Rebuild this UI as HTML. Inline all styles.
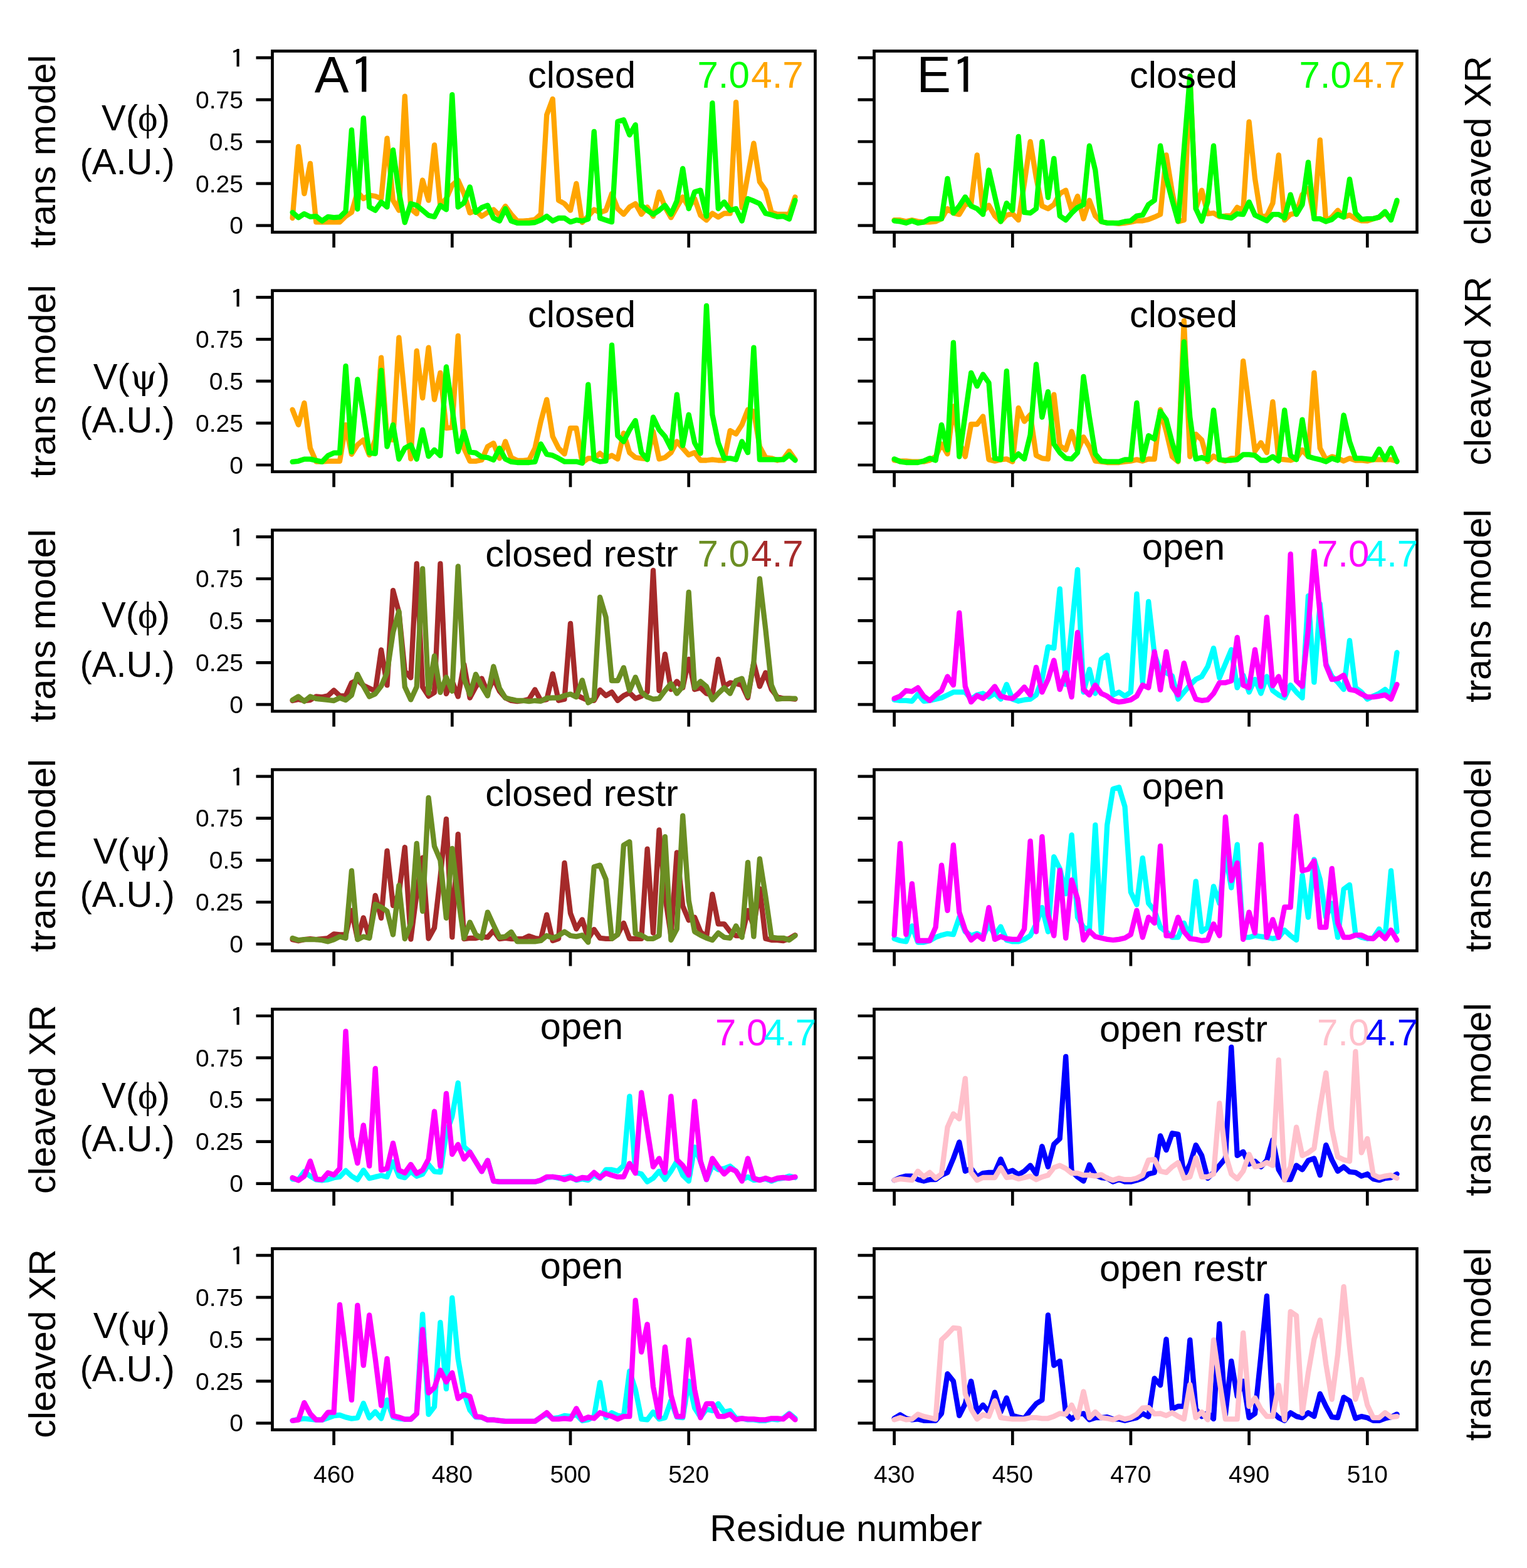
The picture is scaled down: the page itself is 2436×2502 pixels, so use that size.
<!DOCTYPE html><html><head><meta charset="utf-8"><style>html,body{margin:0;padding:0;background:#fff;}svg{display:block;}svg{font-family:"Liberation Sans",Arial,sans-serif;}</style></head><body>
<svg width="2436" height="2502" viewBox="0 0 2436 2502">
<rect width="2436" height="2502" fill="#fff"/>
<clipPath id="c00"><rect x="434.5" y="81.5" width="866.0" height="289.0"/></clipPath>
<g clip-path="url(#c00)" fill="none" stroke-width="8.3" stroke-linejoin="round" stroke-linecap="round">
<polyline points="466.6,348.0 476.0,234.0 485.4,309.0 494.9,260.8 504.3,354.4 513.7,354.4 523.2,354.4 532.6,354.4 542.0,354.4 551.5,345.1 560.9,338.9 570.3,306.3 579.8,317.0 589.2,311.6 598.7,313.0 608.1,317.0 617.5,220.6 627.0,319.7 636.4,335.7 645.8,153.7 655.3,333.0 664.7,341.1 674.1,287.5 683.6,319.7 693.0,231.4 702.4,327.7 711.9,317.0 721.3,295.6 730.7,287.5 740.2,309.0 749.6,339.7 759.0,335.7 768.5,345.1 777.9,338.9 787.3,334.4 796.8,343.7 806.2,329.0 815.6,341.9 825.1,352.6 834.5,352.6 843.9,351.8 853.4,350.4 862.8,341.9 872.2,183.2 881.7,157.8 891.1,319.7 900.5,325.0 910.0,335.7 919.4,292.9 928.8,355.0 938.3,345.1 947.7,334.4 957.1,338.9 966.6,335.7 976.0,309.0 985.4,333.0 994.9,341.9 1004.3,330.4 1013.7,325.0 1023.2,341.9 1032.6,330.4 1042.0,345.1 1051.5,306.3 1060.9,330.4 1070.4,347.2 1079.8,330.4 1089.2,314.3 1098.7,330.4 1108.1,317.0 1117.5,343.5 1127.0,351.2 1136.4,340.5 1145.8,346.4 1155.3,340.5 1164.7,340.5 1174.1,163.1 1183.6,331.4 1193.0,279.5 1202.4,228.7 1211.9,290.2 1221.3,303.6 1230.7,338.9 1240.2,341.9 1249.6,341.9 1259.0,341.9 1268.5,314.3" stroke="#FFA500"/>
<polyline points="466.6,338.9 476.0,347.2 485.4,341.1 494.9,345.9 504.3,345.1 513.7,352.6 523.2,345.9 532.6,347.2 542.0,346.4 551.5,337.3 560.9,207.3 570.3,333.6 579.8,188.5 589.2,330.4 598.7,335.7 608.1,322.3 617.5,330.4 627.0,239.4 636.4,306.3 645.8,355.0 655.3,325.0 664.7,327.7 674.1,335.7 683.6,343.7 693.0,345.9 702.4,327.7 711.9,334.4 721.3,151.1 730.7,330.4 740.2,323.7 749.6,298.3 759.0,338.9 768.5,331.2 777.9,327.7 787.3,348.0 796.8,352.6 806.2,333.0 815.6,352.6 825.1,355.8 834.5,355.8 843.9,355.8 853.4,355.0 862.8,351.2 872.2,345.1 881.7,352.6 891.1,348.0 900.5,348.0 910.0,354.2 919.4,351.2 928.8,352.6 938.3,349.6 947.7,209.9 957.1,348.0 966.6,351.2 976.0,354.2 985.4,193.9 994.9,191.2 1004.3,215.3 1013.7,199.2 1023.2,327.7 1032.6,335.7 1042.0,341.9 1051.5,335.7 1060.9,327.7 1070.4,341.9 1079.8,320.7 1089.2,268.8 1098.7,333.0 1108.1,306.3 1117.5,303.6 1127.0,345.1 1136.4,164.5 1145.8,333.0 1155.3,322.3 1164.7,335.7 1174.1,333.0 1183.6,352.6 1193.0,317.0 1202.4,320.7 1211.9,325.0 1221.3,340.5 1230.7,342.7 1240.2,345.9 1249.6,345.1 1259.0,349.6 1268.5,319.7" stroke="#00FF00"/>
</g>
<rect x="434.5" y="81.5" width="866.0" height="289.0" fill="none" stroke="#000" stroke-width="4.7"/>
<path d="M408.5 359.8H434.5M408.5 292.9H434.5M408.5 226.0H434.5M408.5 159.1H434.5M408.5 92.2H434.5M532.6 370.5V395.0M721.3 370.5V395.0M910.0 370.5V395.0M1098.7 370.5V395.0" stroke="#000" stroke-width="4.7" fill="none"/>
<text x="388.0" y="373.4" font-size="39" text-anchor="end">0</text>
<text x="388.0" y="306.5" font-size="39" text-anchor="end">0.25</text>
<text x="388.0" y="239.6" font-size="39" text-anchor="end">0.5</text>
<text x="388.0" y="172.7" font-size="39" text-anchor="end">0.75</text>
<text transform="translate(366.2,108.3) scale(1.25,1)" font-size="40.4" font-family="IPAGothic, Liberation Sans, sans-serif">1</text>
<text x="928.0" y="140.0" font-size="59.5" text-anchor="middle">closed</text>
<text x="1112.5" y="139.5" font-size="60" fill="#00FF00">7.0</text>
<text x="1198.3" y="139.5" font-size="60" fill="#FFA500">4.7</text>
<text x="501.8" y="146.9" font-size="82">A</text>
<text transform="translate(557.6,150.9) scale(1.1,1)" font-size="80" font-family="IPAGothic, Liberation Sans, sans-serif">1</text>
<clipPath id="c01"><rect x="1394.5" y="81.5" width="866.0" height="289.0"/></clipPath>
<g clip-path="url(#c01)" fill="none" stroke-width="8.3" stroke-linejoin="round" stroke-linecap="round">
<polyline points="1426.6,351.2 1436.0,351.2 1445.4,353.4 1454.9,351.2 1464.3,353.4 1473.7,354.4 1483.2,354.4 1492.6,353.4 1502.0,349.1 1511.5,333.0 1520.9,340.0 1530.3,342.1 1539.8,326.4 1549.2,325.0 1558.7,247.4 1568.1,337.6 1577.5,327.7 1587.0,344.5 1596.4,353.4 1605.8,343.2 1615.3,341.1 1624.7,351.2 1634.1,292.9 1643.6,226.0 1653.0,283.5 1662.4,328.8 1671.9,333.0 1681.3,326.4 1690.7,309.0 1700.2,303.6 1709.6,335.7 1719.0,313.0 1728.5,349.1 1737.9,319.7 1747.3,344.5 1756.8,353.4 1766.2,355.8 1775.6,355.8 1785.1,356.9 1794.5,355.8 1803.9,354.4 1813.4,352.3 1822.8,352.3 1832.2,350.2 1841.7,346.4 1851.1,342.1 1860.5,247.4 1870.0,306.3 1879.4,353.4 1888.8,351.2 1898.3,121.6 1907.7,333.0 1917.1,303.6 1926.6,341.1 1936.0,340.0 1945.4,345.6 1954.9,344.5 1964.3,344.5 1973.7,330.9 1983.2,335.7 1992.6,194.4 2002.0,284.9 2011.5,345.6 2020.9,344.5 2030.4,324.2 2039.8,247.4 2049.2,351.2 2058.7,342.1 2068.1,340.0 2077.5,310.6 2087.0,300.9 2096.4,346.4 2105.8,223.3 2115.3,353.4 2124.7,346.4 2134.1,335.7 2143.6,346.4 2153.0,343.2 2162.4,349.1 2171.9,352.3 2181.3,352.3 2190.7,349.1 2200.2,346.4 2209.6,340.0 2219.0,349.1 2228.5,322.3" stroke="#FFA500"/>
<polyline points="1426.6,352.3 1436.0,353.4 1445.4,355.8 1454.9,352.3 1464.3,355.8 1473.7,354.4 1483.2,349.1 1492.6,349.1 1502.0,349.1 1511.5,284.9 1520.9,340.0 1530.3,328.8 1539.8,314.3 1549.2,328.8 1558.7,333.0 1568.1,342.1 1577.5,271.5 1587.0,313.0 1596.4,353.4 1605.8,324.2 1615.3,335.7 1624.7,218.0 1634.1,338.9 1643.6,340.0 1653.0,333.0 1662.4,226.0 1671.9,315.1 1681.3,252.8 1690.7,344.5 1700.2,351.2 1709.6,340.0 1719.0,330.9 1728.5,326.4 1737.9,232.7 1747.3,271.5 1756.8,353.4 1766.2,355.8 1775.6,355.8 1785.1,355.8 1794.5,353.4 1803.9,352.3 1813.4,344.5 1822.8,343.2 1832.2,326.4 1841.7,319.7 1851.1,232.7 1860.5,283.5 1870.0,319.7 1879.4,353.1 1888.8,239.4 1898.3,121.6 1907.7,333.0 1917.1,353.1 1926.6,322.3 1936.0,232.7 1945.4,344.5 1954.9,346.4 1964.3,347.8 1973.7,341.1 1983.2,342.1 1992.6,322.3 2002.0,343.2 2011.5,347.8 2020.9,352.3 2030.4,342.1 2039.8,342.1 2049.2,347.8 2058.7,310.6 2068.1,342.1 2077.5,326.4 2087.0,258.9 2096.4,349.1 2105.8,349.1 2115.3,353.4 2124.7,350.2 2134.1,342.1 2143.6,346.4 2153.0,285.9 2162.4,340.0 2171.9,350.2 2181.3,349.1 2190.7,349.1 2200.2,346.4 2209.6,337.6 2219.0,351.2 2228.5,319.7" stroke="#00FF00"/>
</g>
<rect x="1394.5" y="81.5" width="866.0" height="289.0" fill="none" stroke="#000" stroke-width="4.7"/>
<path d="M1368.5 359.8H1394.5M1368.5 292.9H1394.5M1368.5 226.0H1394.5M1368.5 159.1H1394.5M1368.5 92.2H1394.5M1426.6 370.5V395.0M1615.3 370.5V395.0M1803.9 370.5V395.0M1992.6 370.5V395.0M2181.3 370.5V395.0" stroke="#000" stroke-width="4.7" fill="none"/>
<text x="1888.0" y="140.0" font-size="59.5" text-anchor="middle">closed</text>
<text x="2072.5" y="139.5" font-size="60" fill="#00FF00">7.0</text>
<text x="2158.3" y="139.5" font-size="60" fill="#FFA500">4.7</text>
<text x="1462.3" y="146.9" font-size="82">E</text>
<text transform="translate(1517.6,150.9) scale(1.1,1)" font-size="80" font-family="IPAGothic, Liberation Sans, sans-serif">1</text>
<clipPath id="c10"><rect x="434.5" y="463.7" width="866.0" height="289.0"/></clipPath>
<g clip-path="url(#c10)" fill="none" stroke-width="8.3" stroke-linejoin="round" stroke-linecap="round">
<polyline points="466.6,653.7 476.0,677.8 485.4,643.0 494.9,715.2 504.3,736.6 513.7,736.6 523.2,735.8 532.6,735.8 542.0,735.8 551.5,677.8 560.9,724.9 570.3,709.9 579.8,701.9 589.2,725.9 598.7,701.9 608.1,570.7 617.5,700.5 627.0,701.9 636.4,538.6 645.8,635.0 655.3,732.1 664.7,560.0 674.1,635.0 683.6,554.7 693.0,637.6 702.4,594.8 711.9,683.1 721.3,681.8 730.7,535.9 740.2,715.2 749.6,735.8 759.0,735.8 768.5,734.0 777.9,712.6 787.3,707.2 796.8,731.3 806.2,704.5 815.6,730.2 825.1,734.8 834.5,734.8 843.9,734.0 853.4,715.2 862.8,672.4 872.2,637.6 881.7,696.5 891.1,715.2 900.5,724.3 910.0,683.1 919.4,683.1 928.8,738.0 938.3,731.3 947.7,731.3 957.1,723.3 966.6,731.3 976.0,726.7 985.4,732.4 994.9,691.2 1004.3,722.2 1013.7,730.0 1023.2,731.3 1032.6,732.4 1042.0,688.5 1051.5,732.4 1060.9,730.0 1070.4,722.2 1079.8,704.5 1089.2,715.2 1098.7,725.9 1108.1,722.2 1117.5,734.5 1127.0,734.5 1136.4,733.4 1145.8,734.5 1155.3,734.5 1164.7,687.1 1174.1,692.5 1183.6,677.8 1193.0,653.7 1202.4,656.4 1211.9,712.6 1221.3,730.0 1230.7,731.3 1240.2,734.5 1249.6,732.4 1259.0,719.8 1268.5,733.4" stroke="#FFA500"/>
<polyline points="466.6,736.9 476.0,735.8 485.4,732.6 494.9,732.6 504.3,734.8 513.7,736.9 523.2,727.0 532.6,722.7 542.0,722.7 551.5,584.1 560.9,721.1 570.3,605.5 579.8,661.7 589.2,722.7 598.7,723.8 608.1,590.8 617.5,712.6 627.0,677.8 636.4,732.6 645.8,715.2 655.3,709.9 664.7,732.6 674.1,685.8 683.6,728.1 693.0,717.9 702.4,727.0 711.9,585.5 721.3,651.0 730.7,720.6 740.2,688.5 749.6,721.4 759.0,722.7 768.5,729.2 777.9,730.2 787.3,734.0 796.8,715.2 806.2,732.6 815.6,736.9 825.1,738.0 834.5,738.0 843.9,738.0 853.4,736.9 862.8,708.5 872.2,724.9 881.7,726.7 891.1,731.3 900.5,736.6 910.0,736.6 919.4,736.6 928.8,739.1 938.3,613.6 947.7,733.4 957.1,736.6 966.6,735.6 976.0,550.7 985.4,695.2 994.9,704.5 1004.3,685.8 1013.7,671.1 1023.2,722.2 1032.6,733.4 1042.0,665.7 1051.5,685.8 1060.9,696.5 1070.4,715.2 1079.8,629.6 1089.2,711.0 1098.7,661.7 1108.1,706.4 1117.5,723.3 1127.0,487.8 1136.4,661.7 1145.8,706.4 1155.3,731.3 1164.7,731.3 1174.1,733.4 1183.6,704.5 1193.0,722.2 1202.4,554.7 1211.9,733.4 1221.3,733.4 1230.7,733.4 1240.2,733.4 1249.6,733.4 1259.0,725.9 1268.5,734.5" stroke="#00FF00"/>
</g>
<rect x="434.5" y="463.7" width="866.0" height="289.0" fill="none" stroke="#000" stroke-width="4.7"/>
<path d="M408.5 742.0H434.5M408.5 675.1H434.5M408.5 608.2H434.5M408.5 541.3H434.5M408.5 474.4H434.5M532.6 752.7V777.2M721.3 752.7V777.2M910.0 752.7V777.2M1098.7 752.7V777.2" stroke="#000" stroke-width="4.7" fill="none"/>
<text x="388.0" y="755.6" font-size="39" text-anchor="end">0</text>
<text x="388.0" y="688.7" font-size="39" text-anchor="end">0.25</text>
<text x="388.0" y="621.8" font-size="39" text-anchor="end">0.5</text>
<text x="388.0" y="554.9" font-size="39" text-anchor="end">0.75</text>
<text transform="translate(366.2,490.5) scale(1.25,1)" font-size="40.4" font-family="IPAGothic, Liberation Sans, sans-serif">1</text>
<text x="928.0" y="522.2" font-size="59.5" text-anchor="middle">closed</text>
<clipPath id="c11"><rect x="1394.5" y="463.7" width="866.0" height="289.0"/></clipPath>
<g clip-path="url(#c11)" fill="none" stroke-width="8.3" stroke-linejoin="round" stroke-linecap="round">
<polyline points="1426.6,734.5 1436.0,735.6 1445.4,735.6 1454.9,736.6 1464.3,736.6 1473.7,736.6 1483.2,734.5 1492.6,728.6 1502.0,708.5 1511.5,724.3 1520.9,648.3 1530.3,704.5 1539.8,728.6 1549.2,677.0 1558.7,677.0 1568.1,664.4 1577.5,733.4 1587.0,735.6 1596.4,733.4 1605.8,732.4 1615.3,736.6 1624.7,651.0 1634.1,672.4 1643.6,661.7 1653.0,726.7 1662.4,731.3 1671.9,732.4 1681.3,629.6 1690.7,711.0 1700.2,717.9 1709.6,688.5 1719.0,719.8 1728.5,697.3 1737.9,713.1 1747.3,735.6 1756.8,736.6 1766.2,738.0 1775.6,738.0 1785.1,738.0 1794.5,736.6 1803.9,735.6 1813.4,733.4 1822.8,735.6 1832.2,732.4 1841.7,732.6 1851.1,653.7 1860.5,688.5 1870.0,728.6 1879.4,736.6 1888.8,511.9 1898.3,728.6 1907.7,692.8 1917.1,701.9 1926.6,736.6 1936.0,727.8 1945.4,733.4 1954.9,735.6 1964.3,731.3 1973.7,731.3 1983.2,576.1 1992.6,648.3 2002.0,719.8 2011.5,706.4 2020.9,722.2 2030.4,641.1 2039.8,732.4 2049.2,733.4 2058.7,734.5 2068.1,731.3 2077.5,717.9 2087.0,728.6 2096.4,594.8 2105.8,715.2 2115.3,733.4 2124.7,728.6 2134.1,731.3 2143.6,735.6 2153.0,731.3 2162.4,734.5 2171.9,734.5 2181.3,735.6 2190.7,733.4 2200.2,733.4 2209.6,733.4 2219.0,733.4 2228.5,735.6" stroke="#FFA500"/>
<polyline points="1426.6,732.4 1436.0,736.6 1445.4,738.0 1454.9,738.0 1464.3,738.0 1473.7,735.6 1483.2,731.3 1492.6,734.5 1502.0,677.8 1511.5,717.9 1520.9,546.7 1530.3,728.6 1539.8,661.7 1549.2,594.8 1558.7,616.2 1568.1,597.5 1577.5,610.9 1587.0,731.3 1596.4,733.4 1605.8,592.1 1615.3,733.4 1624.7,724.3 1634.1,732.4 1643.6,693.8 1653.0,581.4 1662.4,665.7 1671.9,625.1 1681.3,708.5 1690.7,722.2 1700.2,731.3 1709.6,732.4 1719.0,722.2 1728.5,601.0 1737.9,665.7 1747.3,724.3 1756.8,735.6 1766.2,736.6 1775.6,736.6 1785.1,736.6 1794.5,733.4 1803.9,733.4 1813.4,643.0 1822.8,733.4 1832.2,695.2 1841.7,700.5 1851.1,656.4 1860.5,669.7 1870.0,706.4 1879.4,735.6 1888.8,545.3 1898.3,665.7 1907.7,732.4 1917.1,730.0 1926.6,733.4 1936.0,654.5 1945.4,733.4 1954.9,734.5 1964.3,734.5 1973.7,733.4 1983.2,725.4 1992.6,725.4 2002.0,726.7 2011.5,734.5 2020.9,734.5 2030.4,728.6 2039.8,735.6 2049.2,654.5 2058.7,726.7 2068.1,733.4 2077.5,669.7 2087.0,728.6 2096.4,731.3 2105.8,733.4 2115.3,736.6 2124.7,731.3 2134.1,734.5 2143.6,662.5 2153.0,704.5 2162.4,731.3 2171.9,731.3 2181.3,732.4 2190.7,733.4 2200.2,716.6 2209.6,733.4 2219.0,715.2 2228.5,736.6" stroke="#00FF00"/>
</g>
<rect x="1394.5" y="463.7" width="866.0" height="289.0" fill="none" stroke="#000" stroke-width="4.7"/>
<path d="M1368.5 742.0H1394.5M1368.5 675.1H1394.5M1368.5 608.2H1394.5M1368.5 541.3H1394.5M1368.5 474.4H1394.5M1426.6 752.7V777.2M1615.3 752.7V777.2M1803.9 752.7V777.2M1992.6 752.7V777.2M2181.3 752.7V777.2" stroke="#000" stroke-width="4.7" fill="none"/>
<text x="1888.0" y="522.2" font-size="59.5" text-anchor="middle">closed</text>
<clipPath id="c20"><rect x="434.5" y="845.9" width="866.0" height="289.0"/></clipPath>
<g clip-path="url(#c20)" fill="none" stroke-width="8.3" stroke-linejoin="round" stroke-linecap="round">
<polyline points="466.6,1118.0 476.0,1115.9 485.4,1118.0 494.9,1117.0 504.3,1111.4 513.7,1112.4 523.2,1110.3 532.6,1101.5 542.0,1110.3 551.5,1110.3 560.9,1089.4 570.3,1085.1 579.8,1093.7 589.2,1098.2 598.7,1102.8 608.1,1037.0 617.5,1093.4 627.0,942.2 636.4,977.0 645.8,1070.7 655.3,1081.4 664.7,899.4 674.1,1096.1 683.6,1110.8 693.0,1104.9 702.4,899.4 711.9,1107.1 721.3,1086.7 730.7,1111.4 740.2,1060.0 749.6,1113.5 759.0,1096.1 768.5,1082.7 777.9,1104.9 787.3,1082.7 796.8,1102.8 806.2,1113.5 815.6,1118.0 825.1,1119.1 834.5,1118.0 843.9,1115.9 853.4,1100.4 862.8,1118.0 872.2,1116.2 881.7,1075.2 891.1,1117.8 900.5,1115.6 910.0,994.9 919.4,1108.9 928.8,1113.5 938.3,1117.8 947.7,1117.8 957.1,1100.9 966.6,1110.0 976.0,1104.4 985.4,1117.8 994.9,1110.0 1004.3,1105.5 1013.7,1114.6 1023.2,1110.8 1032.6,1104.4 1042.0,910.1 1051.5,1102.0 1060.9,1043.9 1070.4,1100.1 1079.8,1087.3 1089.2,1097.4 1098.7,1051.9 1108.1,1100.1 1117.5,1097.4 1127.0,1106.5 1136.4,1108.9 1145.8,1051.9 1155.3,1095.3 1164.7,1089.4 1174.1,1090.8 1183.6,1093.2 1193.0,1113.5 1202.4,1057.3 1211.9,1095.3 1221.3,1073.4 1230.7,1100.1 1240.2,1112.2 1249.6,1114.6 1259.0,1114.6 1268.5,1115.6" stroke="#A52A2A"/>
<polyline points="466.6,1117.0 476.0,1111.4 485.4,1119.1 494.9,1111.4 504.3,1114.8 513.7,1115.9 523.2,1117.0 532.6,1118.0 542.0,1113.5 551.5,1117.0 560.9,1109.2 570.3,1076.0 579.8,1094.8 589.2,1111.4 598.7,1107.1 608.1,1094.8 617.5,1073.4 627.0,1009.1 636.4,975.4 645.8,1096.1 655.3,1116.4 664.7,1096.1 674.1,907.4 683.6,1106.0 693.0,1046.6 702.4,1104.9 711.9,1080.6 721.3,1102.8 730.7,903.7 740.2,1082.7 749.6,1108.1 759.0,1076.0 768.5,1094.8 777.9,1110.3 787.3,1063.5 796.8,1098.2 806.2,1113.5 815.6,1115.9 825.1,1118.0 834.5,1118.0 843.9,1119.1 853.4,1118.0 862.8,1118.8 872.2,1114.0 881.7,1113.5 891.1,1113.5 900.5,1110.0 910.0,1107.6 919.4,1112.2 928.8,1085.4 938.3,1121.3 947.7,1115.6 957.1,952.9 966.6,985.0 976.0,1086.2 985.4,1086.2 994.9,1065.3 1004.3,1102.0 1013.7,1080.6 1023.2,1104.4 1032.6,1112.2 1042.0,1115.6 1051.5,1114.6 1060.9,1102.0 1070.4,1090.8 1079.8,1106.5 1089.2,1095.3 1098.7,944.9 1108.1,1097.4 1117.5,1087.3 1127.0,1095.3 1136.4,1116.7 1145.8,1106.5 1155.3,1097.4 1164.7,1106.5 1174.1,1086.2 1183.6,1082.7 1193.0,1110.8 1202.4,1057.3 1211.9,923.5 1221.3,1003.8 1230.7,1093.2 1240.2,1115.6 1249.6,1114.6 1259.0,1114.6 1268.5,1114.6" stroke="#6B8E23"/>
</g>
<rect x="434.5" y="845.9" width="866.0" height="289.0" fill="none" stroke="#000" stroke-width="4.7"/>
<path d="M408.5 1124.2H434.5M408.5 1057.3H434.5M408.5 990.4H434.5M408.5 923.5H434.5M408.5 856.6H434.5M532.6 1134.9V1159.4M721.3 1134.9V1159.4M910.0 1134.9V1159.4M1098.7 1134.9V1159.4" stroke="#000" stroke-width="4.7" fill="none"/>
<text x="388.0" y="1137.8" font-size="39" text-anchor="end">0</text>
<text x="388.0" y="1070.9" font-size="39" text-anchor="end">0.25</text>
<text x="388.0" y="1004.0" font-size="39" text-anchor="end">0.5</text>
<text x="388.0" y="937.1" font-size="39" text-anchor="end">0.75</text>
<text transform="translate(366.2,872.7) scale(1.25,1)" font-size="40.4" font-family="IPAGothic, Liberation Sans, sans-serif">1</text>
<text x="928.0" y="903.9" font-size="59.5" text-anchor="middle">closed restr</text>
<text x="1112.5" y="903.9" font-size="60" fill="#6B8E23">7.0</text>
<text x="1198.3" y="903.9" font-size="60" fill="#A52A2A">4.7</text>
<clipPath id="c21"><rect x="1394.5" y="845.9" width="866.0" height="289.0"/></clipPath>
<g clip-path="url(#c21)" fill="none" stroke-width="8.3" stroke-linejoin="round" stroke-linecap="round">
<polyline points="1426.6,1116.7 1436.0,1117.8 1445.4,1117.8 1454.9,1118.8 1464.3,1107.6 1473.7,1118.8 1483.2,1117.8 1492.6,1115.6 1502.0,1113.5 1511.5,1108.9 1520.9,1104.4 1530.3,1104.4 1539.8,1104.4 1549.2,1115.6 1558.7,1108.9 1568.1,1106.5 1577.5,1112.2 1587.0,1106.5 1596.4,1115.6 1605.8,1092.1 1615.3,1115.6 1624.7,1118.8 1634.1,1116.7 1643.6,1115.6 1653.0,1108.9 1662.4,1084.1 1671.9,1032.1 1681.3,1034.3 1690.7,939.6 1700.2,1092.1 1709.6,1003.8 1719.0,909.0 1728.5,1104.4 1737.9,1068.0 1747.3,1106.5 1756.8,1051.9 1766.2,1045.5 1775.6,1108.9 1785.1,1104.4 1794.5,1110.8 1803.9,1104.4 1813.4,947.6 1822.8,1088.6 1832.2,959.9 1841.7,1043.9 1851.1,1070.7 1860.5,1073.4 1870.0,1078.7 1879.4,1115.6 1888.8,1104.4 1898.3,1093.2 1907.7,1084.1 1917.1,1079.5 1926.6,1063.7 1936.0,1034.3 1945.4,1081.7 1954.9,1059.2 1964.3,1036.7 1973.7,1097.4 1983.2,1077.4 1992.6,1104.4 2002.0,1084.1 2011.5,1106.5 2020.9,1079.5 2030.4,1102.0 2039.8,1108.9 2049.2,1113.5 2058.7,1093.2 2068.1,1104.4 2077.5,1113.5 2087.0,950.8 2096.4,1088.6 2105.8,963.6 2115.3,1059.2 2124.7,1079.5 2134.1,1088.6 2143.6,1100.1 2153.0,1022.0 2162.4,1097.4 2171.9,1104.4 2181.3,1115.6 2190.7,1110.8 2200.2,1106.5 2209.6,1100.1 2219.0,1108.9 2228.5,1041.2" stroke="#00FFFF"/>
<polyline points="1426.6,1114.6 1436.0,1110.8 1445.4,1102.0 1454.9,1103.3 1464.3,1097.4 1473.7,1110.8 1483.2,1117.8 1492.6,1108.9 1502.0,1102.0 1511.5,1079.5 1520.9,1093.2 1530.3,977.8 1539.8,1095.3 1549.2,1120.2 1558.7,1110.0 1568.1,1114.6 1577.5,1106.5 1587.0,1095.3 1596.4,1110.8 1605.8,1113.5 1615.3,1114.6 1624.7,1106.5 1634.1,1096.4 1643.6,1108.9 1653.0,1064.8 1662.4,1104.4 1671.9,1084.1 1681.3,1053.6 1690.7,1100.1 1700.2,1073.4 1709.6,1112.2 1719.0,1009.1 1728.5,1100.1 1737.9,1108.9 1747.3,1093.2 1756.8,1106.5 1766.2,1110.8 1775.6,1117.8 1785.1,1120.2 1794.5,1118.8 1803.9,1116.7 1813.4,1110.8 1822.8,1093.2 1832.2,1097.4 1841.7,1039.9 1851.1,1100.9 1860.5,1039.9 1870.0,1095.3 1879.4,1108.9 1888.8,1058.1 1898.3,1093.2 1907.7,1115.6 1917.1,1117.8 1926.6,1116.7 1936.0,1106.5 1945.4,1089.4 1954.9,1089.4 1964.3,1086.2 1973.7,1017.2 1983.2,1093.2 1992.6,1097.4 2002.0,1036.7 2011.5,1095.3 2020.9,985.0 2030.4,1094.2 2039.8,1079.5 2049.2,1108.9 2058.7,884.2 2068.1,1086.2 2077.5,1095.3 2087.0,1003.8 2096.4,879.6 2105.8,979.7 2115.3,1061.3 2124.7,1084.1 2134.1,1083.0 2143.6,1077.4 2153.0,1100.1 2162.4,1102.0 2171.9,1107.6 2181.3,1112.2 2190.7,1112.2 2200.2,1110.8 2209.6,1108.9 2219.0,1115.6 2228.5,1092.1" stroke="#FF00FF"/>
</g>
<rect x="1394.5" y="845.9" width="866.0" height="289.0" fill="none" stroke="#000" stroke-width="4.7"/>
<path d="M1368.5 1124.2H1394.5M1368.5 1057.3H1394.5M1368.5 990.4H1394.5M1368.5 923.5H1394.5M1368.5 856.6H1394.5M1426.6 1134.9V1159.4M1615.3 1134.9V1159.4M1803.9 1134.9V1159.4M1992.6 1134.9V1159.4M2181.3 1134.9V1159.4" stroke="#000" stroke-width="4.7" fill="none"/>
<text x="1888.0" y="893.1" font-size="59.5" text-anchor="middle">open</text>
<text x="2101.0" y="903.9" font-size="60" fill="#FF00FF">7.0</text>
<text x="2178.8" y="903.9" font-size="60" fill="#00FFFF">4.7</text>
<clipPath id="c30"><rect x="434.5" y="1228.1" width="866.0" height="289.0"/></clipPath>
<g clip-path="url(#c30)" fill="none" stroke-width="8.3" stroke-linejoin="round" stroke-linecap="round">
<polyline points="466.6,1499.2 476.0,1501.3 485.4,1499.2 494.9,1498.1 504.3,1499.2 513.7,1498.1 523.2,1497.0 532.6,1490.3 542.0,1491.4 551.5,1491.4 560.9,1452.9 570.3,1498.1 579.8,1464.4 589.2,1495.7 598.7,1428.8 608.1,1464.9 617.5,1357.6 627.0,1444.9 636.4,1426.1 645.8,1352.0 655.3,1498.6 664.7,1426.1 674.1,1368.6 683.6,1497.6 693.0,1480.4 702.4,1399.4 711.9,1306.8 721.3,1495.4 730.7,1331.1 740.2,1498.1 749.6,1497.0 759.0,1497.0 768.5,1494.6 777.9,1495.7 787.3,1485.0 796.8,1498.1 806.2,1497.0 815.6,1498.1 825.1,1498.1 834.5,1498.1 843.9,1493.6 853.4,1497.0 862.8,1498.4 872.2,1459.6 881.7,1501.0 891.1,1497.8 900.5,1376.9 910.0,1457.2 919.4,1482.3 928.8,1467.3 938.3,1497.8 947.7,1483.1 957.1,1496.8 966.6,1497.8 976.0,1497.8 985.4,1491.1 994.9,1472.9 1004.3,1497.8 1013.7,1497.8 1023.2,1497.8 1032.6,1354.7 1042.0,1488.7 1051.5,1324.4 1060.9,1430.1 1070.4,1493.0 1079.8,1360.3 1089.2,1445.9 1098.7,1468.4 1108.1,1463.6 1117.5,1486.6 1127.0,1495.7 1136.4,1426.9 1145.8,1474.3 1155.3,1474.3 1164.7,1486.6 1174.1,1493.0 1183.6,1493.0 1193.0,1452.9 1202.4,1477.5 1211.9,1418.1 1221.3,1497.8 1230.7,1500.0 1240.2,1500.0 1249.6,1501.0 1259.0,1497.8 1268.5,1492.2" stroke="#A52A2A"/>
<polyline points="466.6,1497.0 476.0,1500.2 485.4,1499.2 494.9,1499.2 504.3,1499.2 513.7,1500.2 523.2,1502.4 532.6,1499.2 542.0,1494.6 551.5,1497.0 560.9,1389.5 570.3,1499.2 579.8,1494.6 589.2,1497.0 598.7,1443.0 608.1,1447.5 617.5,1454.0 627.0,1491.4 636.4,1412.7 645.8,1498.1 655.3,1474.3 664.7,1345.8 674.1,1454.0 683.6,1272.8 693.0,1350.4 702.4,1372.6 711.9,1464.9 721.3,1353.9 730.7,1431.5 740.2,1497.0 749.6,1471.6 759.0,1491.4 768.5,1497.0 777.9,1455.6 787.3,1475.9 796.8,1495.7 806.2,1494.6 815.6,1487.1 825.1,1502.4 834.5,1502.4 843.9,1502.4 853.4,1502.4 862.8,1501.0 872.2,1493.0 881.7,1496.8 891.1,1493.0 900.5,1486.6 910.0,1493.0 919.4,1494.4 928.8,1492.2 938.3,1503.5 947.7,1383.3 957.1,1380.6 966.6,1403.1 976.0,1497.8 985.4,1491.1 994.9,1348.5 1004.3,1343.2 1013.7,1489.8 1023.2,1492.2 1032.6,1497.8 1042.0,1497.8 1051.5,1493.0 1060.9,1335.1 1070.4,1500.0 1079.8,1482.3 1089.2,1301.7 1098.7,1436.8 1108.1,1486.6 1117.5,1492.2 1127.0,1496.8 1136.4,1500.0 1145.8,1488.7 1155.3,1495.7 1164.7,1496.8 1174.1,1477.5 1183.6,1495.7 1193.0,1376.1 1202.4,1494.4 1211.9,1370.5 1221.3,1430.1 1230.7,1495.7 1240.2,1496.8 1249.6,1496.8 1259.0,1500.0 1268.5,1493.0" stroke="#6B8E23"/>
</g>
<rect x="434.5" y="1228.1" width="866.0" height="289.0" fill="none" stroke="#000" stroke-width="4.7"/>
<path d="M408.5 1506.4H434.5M408.5 1439.5H434.5M408.5 1372.6H434.5M408.5 1305.7H434.5M408.5 1238.8H434.5M532.6 1517.1V1541.6M721.3 1517.1V1541.6M910.0 1517.1V1541.6M1098.7 1517.1V1541.6" stroke="#000" stroke-width="4.7" fill="none"/>
<text x="388.0" y="1520.0" font-size="39" text-anchor="end">0</text>
<text x="388.0" y="1453.1" font-size="39" text-anchor="end">0.25</text>
<text x="388.0" y="1386.2" font-size="39" text-anchor="end">0.5</text>
<text x="388.0" y="1319.3" font-size="39" text-anchor="end">0.75</text>
<text transform="translate(366.2,1254.9) scale(1.25,1)" font-size="40.4" font-family="IPAGothic, Liberation Sans, sans-serif">1</text>
<text x="928.0" y="1286.1" font-size="59.5" text-anchor="middle">closed restr</text>
<clipPath id="c31"><rect x="1394.5" y="1228.1" width="866.0" height="289.0"/></clipPath>
<g clip-path="url(#c31)" fill="none" stroke-width="8.3" stroke-linejoin="round" stroke-linecap="round">
<polyline points="1426.6,1497.8 1436.0,1501.0 1445.4,1502.4 1454.9,1477.5 1464.3,1503.5 1473.7,1503.5 1483.2,1501.0 1492.6,1495.7 1502.0,1492.2 1511.5,1489.8 1520.9,1491.1 1530.3,1463.6 1539.8,1486.6 1549.2,1493.0 1558.7,1489.8 1568.1,1494.4 1577.5,1475.4 1587.0,1492.2 1596.4,1478.6 1605.8,1500.0 1615.3,1502.4 1624.7,1502.4 1634.1,1498.9 1643.6,1493.0 1653.0,1474.3 1662.4,1448.1 1671.9,1486.6 1681.3,1367.2 1690.7,1386.0 1700.2,1426.1 1709.6,1332.5 1719.0,1463.6 1728.5,1479.6 1737.9,1484.2 1747.3,1316.4 1756.8,1488.7 1766.2,1316.4 1775.6,1258.9 1785.1,1256.2 1794.5,1287.0 1803.9,1423.4 1813.4,1443.5 1822.8,1369.1 1832.2,1441.4 1841.7,1452.9 1851.1,1479.6 1860.5,1486.6 1870.0,1495.7 1879.4,1495.7 1888.8,1472.9 1898.3,1495.7 1907.7,1406.3 1917.1,1486.6 1926.6,1479.6 1936.0,1414.3 1945.4,1441.4 1954.9,1362.4 1964.3,1416.5 1973.7,1347.7 1983.2,1495.7 1992.6,1495.7 2002.0,1493.0 2011.5,1494.4 2020.9,1495.7 2030.4,1497.8 2039.8,1495.7 2049.2,1484.2 2058.7,1493.0 2068.1,1500.0 2077.5,1396.7 2087.0,1463.6 2096.4,1371.3 2105.8,1403.1 2115.3,1463.6 2124.7,1441.4 2134.1,1495.7 2143.6,1418.9 2153.0,1411.9 2162.4,1491.1 2171.9,1495.7 2181.3,1497.8 2190.7,1496.8 2200.2,1482.3 2209.6,1495.7 2219.0,1389.5 2228.5,1486.6" stroke="#00FFFF"/>
<polyline points="1426.6,1492.2 1436.0,1345.8 1445.4,1491.1 1454.9,1410.1 1464.3,1501.0 1473.7,1501.0 1483.2,1501.0 1492.6,1479.6 1502.0,1380.6 1511.5,1452.9 1520.9,1348.5 1530.3,1455.6 1539.8,1484.2 1549.2,1500.0 1558.7,1492.2 1568.1,1498.9 1577.5,1448.1 1587.0,1498.9 1596.4,1494.4 1605.8,1497.8 1615.3,1498.9 1624.7,1498.9 1634.1,1482.3 1643.6,1342.1 1653.0,1486.6 1662.4,1335.1 1671.9,1459.6 1681.3,1493.0 1690.7,1388.7 1700.2,1496.8 1709.6,1404.2 1719.0,1434.1 1728.5,1500.0 1737.9,1485.5 1747.3,1494.4 1756.8,1496.8 1766.2,1498.9 1775.6,1500.0 1785.1,1498.9 1794.5,1496.8 1803.9,1491.1 1813.4,1452.9 1822.8,1495.7 1832.2,1463.6 1841.7,1472.9 1851.1,1349.9 1860.5,1493.0 1870.0,1493.0 1879.4,1463.6 1888.8,1486.6 1898.3,1497.8 1907.7,1498.9 1917.1,1501.0 1926.6,1500.0 1936.0,1474.3 1945.4,1493.0 1954.9,1303.6 1964.3,1405.2 1973.7,1376.9 1983.2,1498.9 1992.6,1455.6 2002.0,1488.7 2011.5,1347.7 2020.9,1495.7 2030.4,1467.3 2039.8,1495.7 2049.2,1447.5 2058.7,1447.5 2068.1,1302.5 2077.5,1389.5 2087.0,1387.1 2096.4,1373.7 2105.8,1479.6 2115.3,1479.6 2124.7,1386.0 2134.1,1472.9 2143.6,1495.7 2153.0,1495.7 2162.4,1492.2 2171.9,1492.2 2181.3,1496.8 2190.7,1497.8 2200.2,1488.7 2209.6,1497.8 2219.0,1484.2 2228.5,1500.0" stroke="#FF00FF"/>
</g>
<rect x="1394.5" y="1228.1" width="866.0" height="289.0" fill="none" stroke="#000" stroke-width="4.7"/>
<path d="M1368.5 1506.4H1394.5M1368.5 1439.5H1394.5M1368.5 1372.6H1394.5M1368.5 1305.7H1394.5M1368.5 1238.8H1394.5M1426.6 1517.1V1541.6M1615.3 1517.1V1541.6M1803.9 1517.1V1541.6M1992.6 1517.1V1541.6M2181.3 1517.1V1541.6" stroke="#000" stroke-width="4.7" fill="none"/>
<text x="1888.0" y="1275.3" font-size="59.5" text-anchor="middle">open</text>
<clipPath id="c40"><rect x="434.5" y="1610.3" width="866.0" height="289.0"/></clipPath>
<g clip-path="url(#c40)" fill="none" stroke-width="8.3" stroke-linejoin="round" stroke-linecap="round">
<polyline points="466.6,1881.4 476.0,1882.4 485.4,1869.3 494.9,1876.8 504.3,1882.4 513.7,1883.5 523.2,1882.4 532.6,1879.2 542.0,1877.9 551.5,1868.0 560.9,1876.8 570.3,1882.4 579.8,1867.2 589.2,1880.3 598.7,1877.9 608.1,1875.8 617.5,1877.9 627.0,1853.8 636.4,1876.8 645.8,1879.2 655.3,1869.3 664.7,1876.8 674.1,1873.6 683.6,1858.1 693.0,1869.3 702.4,1870.4 711.9,1808.3 721.3,1781.6 730.7,1728.0 740.2,1829.7 749.6,1838.3 759.0,1853.8 768.5,1869.3 777.9,1851.7 787.3,1884.6 796.8,1885.7 806.2,1885.7 815.6,1885.7 825.1,1885.7 834.5,1885.7 843.9,1885.7 853.4,1885.7 862.8,1883.2 872.2,1879.0 881.7,1877.9 891.1,1880.0 900.5,1879.0 910.0,1876.6 919.4,1883.2 928.8,1881.1 938.3,1883.2 947.7,1875.2 957.1,1880.0 966.6,1866.4 976.0,1866.4 985.4,1868.8 994.9,1859.7 1004.3,1749.4 1013.7,1870.9 1023.2,1873.3 1032.6,1885.7 1042.0,1880.0 1051.5,1868.8 1060.9,1882.2 1070.4,1868.8 1079.8,1853.0 1089.2,1875.2 1098.7,1884.6 1108.1,1830.3 1117.5,1853.0 1127.0,1882.2 1136.4,1859.7 1145.8,1866.4 1155.3,1864.5 1164.7,1860.8 1174.1,1868.8 1183.6,1882.2 1193.0,1877.9 1202.4,1883.2 1211.9,1882.2 1221.3,1881.1 1230.7,1884.6 1240.2,1881.1 1249.6,1880.0 1259.0,1876.6 1268.5,1879.0" stroke="#00FFFF"/>
<polyline points="466.6,1879.2 476.0,1883.5 485.4,1876.8 494.9,1852.7 504.3,1881.4 513.7,1882.4 523.2,1871.5 532.6,1874.7 542.0,1864.5 551.5,1645.6 560.9,1814.2 570.3,1856.0 579.8,1795.5 589.2,1860.5 598.7,1705.0 608.1,1867.2 617.5,1864.5 627.0,1824.1 636.4,1867.2 645.8,1871.5 655.3,1858.1 664.7,1872.5 674.1,1867.2 683.6,1849.5 693.0,1773.5 702.4,1860.5 711.9,1744.9 721.3,1841.8 730.7,1826.2 740.2,1849.5 749.6,1838.3 759.0,1853.8 768.5,1869.3 777.9,1851.7 787.3,1884.6 796.8,1885.7 806.2,1885.7 815.6,1885.7 825.1,1885.7 834.5,1885.7 843.9,1885.7 853.4,1885.7 862.8,1883.2 872.2,1877.9 881.7,1877.9 891.1,1879.0 900.5,1882.2 910.0,1879.0 919.4,1882.2 928.8,1879.0 938.3,1880.0 947.7,1870.9 957.1,1879.0 966.6,1872.0 976.0,1875.2 985.4,1877.9 994.9,1877.9 1004.3,1856.5 1013.7,1872.0 1023.2,1743.3 1032.6,1803.0 1042.0,1861.8 1051.5,1848.5 1060.9,1870.9 1070.4,1749.4 1079.8,1850.6 1089.2,1859.7 1098.7,1875.2 1108.1,1757.5 1117.5,1853.0 1127.0,1882.2 1136.4,1848.5 1145.8,1861.8 1155.3,1873.3 1164.7,1864.5 1174.1,1868.8 1183.6,1884.6 1193.0,1848.5 1202.4,1880.0 1211.9,1883.2 1221.3,1880.0 1230.7,1883.2 1240.2,1880.0 1249.6,1879.0 1259.0,1880.0 1268.5,1877.9" stroke="#FF00FF"/>
</g>
<rect x="434.5" y="1610.3" width="866.0" height="289.0" fill="none" stroke="#000" stroke-width="4.7"/>
<path d="M408.5 1888.6H434.5M408.5 1821.7H434.5M408.5 1754.8H434.5M408.5 1687.9H434.5M408.5 1621.0H434.5M532.6 1899.3V1923.8M721.3 1899.3V1923.8M910.0 1899.3V1923.8M1098.7 1899.3V1923.8" stroke="#000" stroke-width="4.7" fill="none"/>
<text x="388.0" y="1902.2" font-size="39" text-anchor="end">0</text>
<text x="388.0" y="1835.3" font-size="39" text-anchor="end">0.25</text>
<text x="388.0" y="1768.4" font-size="39" text-anchor="end">0.5</text>
<text x="388.0" y="1701.5" font-size="39" text-anchor="end">0.75</text>
<text transform="translate(366.2,1637.1) scale(1.25,1)" font-size="40.4" font-family="IPAGothic, Liberation Sans, sans-serif">1</text>
<text x="928.0" y="1657.5" font-size="59.5" text-anchor="middle">open</text>
<text x="1141.0" y="1668.3" font-size="60" fill="#FF00FF">7.0</text>
<text x="1218.8" y="1668.3" font-size="60" fill="#00FFFF">4.7</text>
<clipPath id="c41"><rect x="1394.5" y="1610.3" width="866.0" height="289.0"/></clipPath>
<g clip-path="url(#c41)" fill="none" stroke-width="8.3" stroke-linejoin="round" stroke-linecap="round">
<polyline points="1426.6,1883.2 1436.0,1879.0 1445.4,1876.6 1454.9,1876.6 1464.3,1882.2 1473.7,1884.6 1483.2,1882.2 1492.6,1882.2 1502.0,1875.2 1511.5,1870.9 1520.9,1848.5 1530.3,1822.5 1539.8,1868.8 1549.2,1864.5 1558.7,1877.9 1568.1,1872.0 1577.5,1870.9 1587.0,1870.9 1596.4,1849.5 1605.8,1870.9 1615.3,1867.7 1624.7,1874.4 1634.1,1868.8 1643.6,1859.7 1653.0,1873.3 1662.4,1829.2 1671.9,1861.8 1681.3,1825.7 1690.7,1816.9 1700.2,1685.8 1709.6,1868.8 1719.0,1877.9 1728.5,1884.6 1737.9,1858.6 1747.3,1875.2 1756.8,1879.0 1766.2,1880.0 1775.6,1885.7 1785.1,1882.2 1794.5,1885.7 1803.9,1885.7 1813.4,1883.2 1822.8,1880.0 1832.2,1873.3 1841.7,1870.9 1851.1,1812.3 1860.5,1835.1 1870.0,1808.3 1879.4,1809.9 1888.8,1875.2 1898.3,1857.6 1907.7,1827.1 1917.1,1843.9 1926.6,1880.0 1936.0,1870.9 1945.4,1859.7 1954.9,1848.5 1964.3,1671.0 1973.7,1843.9 1983.2,1837.8 1992.6,1857.6 2002.0,1853.0 2011.5,1861.8 2020.9,1851.7 2030.4,1819.0 2039.8,1866.4 2049.2,1882.2 2058.7,1882.2 2068.1,1859.7 2077.5,1866.4 2087.0,1851.7 2096.4,1848.5 2105.8,1875.2 2115.3,1827.1 2124.7,1850.6 2134.1,1868.8 2143.6,1861.8 2153.0,1869.9 2162.4,1870.9 2171.9,1876.6 2181.3,1873.3 2190.7,1881.1 2200.2,1883.2 2209.6,1880.0 2219.0,1879.0 2228.5,1873.3" stroke="#0000FF"/>
<polyline points="1426.6,1883.2 1436.0,1881.1 1445.4,1882.2 1454.9,1883.2 1464.3,1868.8 1473.7,1877.9 1483.2,1870.9 1492.6,1880.0 1502.0,1873.3 1511.5,1798.7 1520.9,1777.3 1530.3,1785.3 1539.8,1720.8 1549.2,1870.9 1558.7,1883.2 1568.1,1879.0 1577.5,1879.0 1587.0,1879.0 1596.4,1863.2 1605.8,1879.0 1615.3,1877.9 1624.7,1881.1 1634.1,1879.0 1643.6,1876.6 1653.0,1882.2 1662.4,1877.9 1671.9,1875.2 1681.3,1863.2 1690.7,1859.7 1700.2,1864.5 1709.6,1872.0 1719.0,1872.0 1728.5,1875.2 1737.9,1875.2 1747.3,1876.6 1756.8,1874.4 1766.2,1880.0 1775.6,1883.2 1785.1,1880.0 1794.5,1882.2 1803.9,1882.2 1813.4,1880.0 1822.8,1875.2 1832.2,1851.1 1841.7,1850.1 1851.1,1868.8 1860.5,1870.9 1870.0,1861.8 1879.4,1855.1 1888.8,1880.0 1898.3,1877.9 1907.7,1847.4 1917.1,1877.9 1926.6,1877.9 1936.0,1873.3 1945.4,1760.4 1954.9,1841.8 1964.3,1873.3 1973.7,1881.1 1983.2,1868.8 1992.6,1841.8 2002.0,1861.8 2011.5,1859.7 2020.9,1855.1 2030.4,1859.7 2039.8,1691.4 2049.2,1883.2 2058.7,1861.8 2068.1,1798.7 2077.5,1843.9 2087.0,1839.4 2096.4,1832.4 2105.8,1767.1 2115.3,1712.0 2124.7,1801.1 2134.1,1846.1 2143.6,1850.6 2153.0,1853.0 2162.4,1678.0 2171.9,1839.4 2181.3,1816.9 2190.7,1874.4 2200.2,1879.0 2209.6,1876.6 2219.0,1875.2 2228.5,1880.0" stroke="#FFC0CB"/>
</g>
<rect x="1394.5" y="1610.3" width="866.0" height="289.0" fill="none" stroke="#000" stroke-width="4.7"/>
<path d="M1368.5 1888.6H1394.5M1368.5 1821.7H1394.5M1368.5 1754.8H1394.5M1368.5 1687.9H1394.5M1368.5 1621.0H1394.5M1426.6 1899.3V1923.8M1615.3 1899.3V1923.8M1803.9 1899.3V1923.8M1992.6 1899.3V1923.8M2181.3 1899.3V1923.8" stroke="#000" stroke-width="4.7" fill="none"/>
<text x="1888.0" y="1662.1" font-size="59.5" text-anchor="middle">open restr</text>
<text x="2101.0" y="1668.3" font-size="60" fill="#FFC0CB">7.0</text>
<text x="2178.8" y="1668.3" font-size="60" fill="#0000FF">4.7</text>
<clipPath id="c50"><rect x="434.5" y="1992.5" width="866.0" height="289.0"/></clipPath>
<g clip-path="url(#c50)" fill="none" stroke-width="8.3" stroke-linejoin="round" stroke-linecap="round">
<polyline points="466.6,2266.8 476.0,2264.6 485.4,2263.6 494.9,2264.6 504.3,2265.7 513.7,2265.7 523.2,2262.5 532.6,2259.0 542.0,2258.0 551.5,2261.4 560.9,2263.6 570.3,2262.5 579.8,2239.2 589.2,2262.5 598.7,2252.6 608.1,2263.6 617.5,2233.9 627.0,2261.4 636.4,2263.6 645.8,2264.6 655.3,2264.6 664.7,2255.8 674.1,2097.1 683.6,2256.9 693.0,2244.8 702.4,2110.2 711.9,2216.2 721.3,2070.9 730.7,2167.8 740.2,2222.6 749.6,2250.2 759.0,2261.4 768.5,2261.4 777.9,2265.7 787.3,2265.7 796.8,2266.8 806.2,2267.9 815.6,2267.9 825.1,2267.9 834.5,2267.9 843.9,2267.9 853.4,2267.9 862.8,2261.4 872.2,2256.6 881.7,2263.3 891.1,2262.2 900.5,2258.8 910.0,2260.1 919.4,2257.4 928.8,2266.8 938.3,2265.4 947.7,2260.1 957.1,2205.8 966.6,2262.2 976.0,2254.2 985.4,2258.8 994.9,2260.1 1004.3,2187.8 1013.7,2217.3 1023.2,2264.4 1032.6,2265.4 1042.0,2253.1 1051.5,2264.4 1060.9,2262.2 1070.4,2235.2 1079.8,2261.2 1089.2,2262.2 1098.7,2203.9 1108.1,2246.7 1117.5,2261.2 1127.0,2248.6 1136.4,2251.0 1145.8,2239.8 1155.3,2253.1 1164.7,2251.0 1174.1,2263.3 1183.6,2263.3 1193.0,2265.4 1202.4,2265.4 1211.9,2266.8 1221.3,2266.8 1230.7,2264.4 1240.2,2265.4 1249.6,2263.3 1259.0,2255.5 1268.5,2263.3" stroke="#00FFFF"/>
<polyline points="466.6,2266.8 476.0,2265.7 485.4,2238.2 494.9,2255.8 504.3,2265.7 513.7,2265.7 523.2,2253.7 532.6,2253.7 542.0,2081.9 551.5,2156.8 560.9,2233.9 570.3,2082.9 579.8,2178.7 589.2,2098.5 598.7,2167.8 608.1,2242.7 617.5,2167.8 627.0,2259.0 636.4,2261.4 645.8,2264.6 655.3,2264.6 664.7,2255.8 674.1,2121.5 683.6,2222.6 693.0,2214.1 702.4,2186.5 711.9,2205.2 721.3,2190.5 730.7,2231.7 740.2,2225.3 749.6,2228.3 759.0,2260.1 768.5,2261.4 777.9,2265.7 787.3,2265.7 796.8,2266.8 806.2,2267.9 815.6,2267.9 825.1,2267.9 834.5,2267.9 843.9,2267.9 853.4,2267.9 862.8,2261.4 872.2,2254.2 881.7,2264.4 891.1,2264.4 900.5,2263.3 910.0,2264.4 919.4,2247.5 928.8,2265.4 938.3,2261.2 947.7,2263.3 957.1,2254.2 966.6,2257.4 976.0,2260.1 985.4,2264.4 994.9,2260.1 1004.3,2260.1 1013.7,2074.9 1023.2,2157.3 1032.6,2113.2 1042.0,2212.5 1051.5,2261.2 1060.9,2149.3 1070.4,2226.1 1079.8,2260.1 1089.2,2260.1 1098.7,2138.1 1108.1,2217.3 1117.5,2262.2 1127.0,2239.8 1136.4,2239.8 1145.8,2260.1 1155.3,2260.1 1164.7,2256.6 1174.1,2265.4 1183.6,2263.3 1193.0,2264.4 1202.4,2264.4 1211.9,2265.4 1221.3,2265.4 1230.7,2263.3 1240.2,2263.3 1249.6,2264.4 1259.0,2256.6 1268.5,2265.4" stroke="#FF00FF"/>
</g>
<rect x="434.5" y="1992.5" width="866.0" height="289.0" fill="none" stroke="#000" stroke-width="4.7"/>
<path d="M408.5 2270.8H434.5M408.5 2203.9H434.5M408.5 2137.0H434.5M408.5 2070.1H434.5M408.5 2003.2H434.5M532.6 2281.5V2306.0M721.3 2281.5V2306.0M910.0 2281.5V2306.0M1098.7 2281.5V2306.0" stroke="#000" stroke-width="4.7" fill="none"/>
<text x="388.0" y="2284.4" font-size="39" text-anchor="end">0</text>
<text x="388.0" y="2217.5" font-size="39" text-anchor="end">0.25</text>
<text x="388.0" y="2150.6" font-size="39" text-anchor="end">0.5</text>
<text x="388.0" y="2083.7" font-size="39" text-anchor="end">0.75</text>
<text transform="translate(366.2,2019.3) scale(1.25,1)" font-size="40.4" font-family="IPAGothic, Liberation Sans, sans-serif">1</text>
<text x="928.0" y="2039.7" font-size="59.5" text-anchor="middle">open</text>
<text x="532.6" y="2365.5" font-size="39" text-anchor="middle">460</text>
<text x="721.3" y="2365.5" font-size="39" text-anchor="middle">480</text>
<text x="910.0" y="2365.5" font-size="39" text-anchor="middle">500</text>
<text x="1098.7" y="2365.5" font-size="39" text-anchor="middle">520</text>
<clipPath id="c51"><rect x="1394.5" y="1992.5" width="866.0" height="289.0"/></clipPath>
<g clip-path="url(#c51)" fill="none" stroke-width="8.3" stroke-linejoin="round" stroke-linecap="round">
<polyline points="1426.6,2263.3 1436.0,2257.4 1445.4,2263.3 1454.9,2265.4 1464.3,2264.4 1473.7,2266.8 1483.2,2266.8 1492.6,2266.8 1502.0,2255.5 1511.5,2192.1 1520.9,2203.9 1530.3,2258.8 1539.8,2239.8 1549.2,2203.9 1558.7,2253.1 1568.1,2241.9 1577.5,2253.1 1587.0,2221.6 1596.4,2253.1 1605.8,2230.7 1615.3,2258.8 1624.7,2261.2 1634.1,2263.3 1643.6,2251.0 1653.0,2239.8 1662.4,2233.9 1671.9,2098.5 1681.3,2178.7 1690.7,2171.8 1700.2,2255.5 1709.6,2264.4 1719.0,2256.6 1728.5,2255.5 1737.9,2265.4 1747.3,2262.2 1756.8,2262.2 1766.2,2261.2 1775.6,2264.4 1785.1,2264.4 1794.5,2266.8 1803.9,2264.4 1813.4,2262.2 1822.8,2255.5 1832.2,2260.6 1841.7,2199.4 1851.1,2210.3 1860.5,2137.0 1870.0,2248.6 1879.4,2244.0 1888.8,2244.0 1898.3,2138.1 1907.7,2248.6 1917.1,2260.1 1926.6,2254.7 1936.0,2264.1 1945.4,2112.1 1954.9,2257.4 1964.3,2171.8 1973.7,2228.0 1983.2,2203.9 1992.6,2262.2 2002.0,2255.5 2011.5,2163.8 2020.9,2068.0 2030.4,2253.1 2039.8,2262.2 2049.2,2266.8 2058.7,2254.2 2068.1,2260.1 2077.5,2262.2 2087.0,2254.2 2096.4,2260.1 2105.8,2224.0 2115.3,2244.0 2124.7,2261.2 2134.1,2262.2 2143.6,2229.6 2153.0,2235.2 2162.4,2263.3 2171.9,2260.1 2181.3,2262.2 2190.7,2266.8 2200.2,2266.8 2209.6,2263.3 2219.0,2261.2 2228.5,2256.6" stroke="#0000FF"/>
<polyline points="1426.6,2265.4 1436.0,2262.2 1445.4,2265.4 1454.9,2264.4 1464.3,2256.6 1473.7,2260.1 1483.2,2262.2 1492.6,2264.4 1502.0,2138.1 1511.5,2129.0 1520.9,2118.8 1530.3,2119.9 1539.8,2224.0 1549.2,2248.6 1558.7,2264.4 1568.1,2257.4 1577.5,2260.1 1587.0,2235.2 1596.4,2262.2 1605.8,2263.3 1615.3,2264.4 1624.7,2264.4 1634.1,2264.4 1643.6,2262.2 1653.0,2262.2 1662.4,2263.3 1671.9,2263.3 1681.3,2260.1 1690.7,2255.5 1700.2,2256.6 1709.6,2241.9 1719.0,2262.2 1728.5,2220.5 1737.9,2262.2 1747.3,2253.1 1756.8,2262.2 1766.2,2263.3 1775.6,2265.4 1785.1,2261.2 1794.5,2264.4 1803.9,2262.2 1813.4,2256.6 1822.8,2246.7 1832.2,2246.2 1841.7,2256.1 1851.1,2255.5 1860.5,2258.8 1870.0,2254.2 1879.4,2260.1 1888.8,2264.4 1898.3,2209.3 1907.7,2262.2 1917.1,2253.1 1926.6,2265.4 1936.0,2138.1 1945.4,2203.9 1954.9,2264.4 1964.3,2264.4 1973.7,2264.4 1983.2,2126.8 1992.6,2244.0 2002.0,2230.7 2011.5,2248.6 2020.9,2260.1 2030.4,2260.1 2039.8,2210.3 2049.2,2265.4 2058.7,2092.8 2068.1,2099.5 2077.5,2255.5 2087.0,2190.5 2096.4,2137.0 2105.8,2106.5 2115.3,2177.1 2124.7,2232.8 2134.1,2161.1 2143.6,2053.2 2153.0,2149.3 2162.4,2232.8 2171.9,2201.2 2181.3,2241.9 2190.7,2262.2 2200.2,2262.2 2209.6,2254.2 2219.0,2261.2 2228.5,2260.1" stroke="#FFC0CB"/>
</g>
<rect x="1394.5" y="1992.5" width="866.0" height="289.0" fill="none" stroke="#000" stroke-width="4.7"/>
<path d="M1368.5 2270.8H1394.5M1368.5 2203.9H1394.5M1368.5 2137.0H1394.5M1368.5 2070.1H1394.5M1368.5 2003.2H1394.5M1426.6 2281.5V2306.0M1615.3 2281.5V2306.0M1803.9 2281.5V2306.0M1992.6 2281.5V2306.0M2181.3 2281.5V2306.0" stroke="#000" stroke-width="4.7" fill="none"/>
<text x="1888.0" y="2044.3" font-size="59.5" text-anchor="middle">open restr</text>
<text x="1426.6" y="2365.5" font-size="39" text-anchor="middle">430</text>
<text x="1615.3" y="2365.5" font-size="39" text-anchor="middle">450</text>
<text x="1803.9" y="2365.5" font-size="39" text-anchor="middle">470</text>
<text x="1992.6" y="2365.5" font-size="39" text-anchor="middle">490</text>
<text x="2181.3" y="2365.5" font-size="39" text-anchor="middle">510</text>
<text transform="translate(88.3,241.7) rotate(-90)" font-size="59" text-anchor="middle">trans model</text>
<text transform="translate(2378,239.9) rotate(-90)" font-size="59" text-anchor="middle">cleaved XR</text>
<text x="271.0" y="208.2" font-size="58" text-anchor="end">V(<tspan font-family="Liberation Serif, DejaVu Serif, serif" font-size="60">ϕ</tspan>)</text>
<text x="203.2" y="278.2" font-size="58" text-anchor="middle">(A.U.)</text>
<text transform="translate(88.3,608.4) rotate(-90)" font-size="59" text-anchor="middle">trans model</text>
<text transform="translate(2378,591.9) rotate(-90)" font-size="59" text-anchor="middle">cleaved XR</text>
<text x="271.0" y="620.6" font-size="58" text-anchor="end">V(<tspan font-family="DejaVu Math TeX Gyre, Liberation Serif, serif" font-size="55">ψ</tspan>)</text>
<text x="203.2" y="689.7" font-size="58" text-anchor="middle">(A.U.)</text>
<text transform="translate(88.3,998.5) rotate(-90)" font-size="59" text-anchor="middle">trans model</text>
<text transform="translate(2378,966.8) rotate(-90)" font-size="59" text-anchor="middle">trans model</text>
<text x="271.0" y="1000.6" font-size="58" text-anchor="end">V(<tspan font-family="Liberation Serif, DejaVu Serif, serif" font-size="60">ϕ</tspan>)</text>
<text x="203.2" y="1079.8" font-size="58" text-anchor="middle">(A.U.)</text>
<text transform="translate(88.3,1365.2) rotate(-90)" font-size="59" text-anchor="middle">trans model</text>
<text transform="translate(2378,1365.1) rotate(-90)" font-size="59" text-anchor="middle">trans model</text>
<text x="271.0" y="1377.9" font-size="58" text-anchor="end">V(<tspan font-family="DejaVu Math TeX Gyre, Liberation Serif, serif" font-size="55">ψ</tspan>)</text>
<text x="203.2" y="1446.9" font-size="58" text-anchor="middle">(A.U.)</text>
<text transform="translate(88.3,1754.2) rotate(-90)" font-size="59" text-anchor="middle">cleaved XR</text>
<text transform="translate(2378,1754.6) rotate(-90)" font-size="59" text-anchor="middle">trans model</text>
<text x="271.0" y="1768.0" font-size="58" text-anchor="end">V(<tspan font-family="Liberation Serif, DejaVu Serif, serif" font-size="60">ϕ</tspan>)</text>
<text x="203.2" y="1837.0" font-size="58" text-anchor="middle">(A.U.)</text>
<text transform="translate(88.3,2143.9) rotate(-90)" font-size="59" text-anchor="middle">cleaved XR</text>
<text transform="translate(2378,2145.0) rotate(-90)" font-size="59" text-anchor="middle">trans model</text>
<text x="271.0" y="2134.5" font-size="58" text-anchor="end">V(<tspan font-family="DejaVu Math TeX Gyre, Liberation Serif, serif" font-size="55">ψ</tspan>)</text>
<text x="203.2" y="2204.1" font-size="58" text-anchor="middle">(A.U.)</text>
<text x="1349.5" y="2459" font-size="59.2" text-anchor="middle">Residue number</text>
</svg></body></html>
